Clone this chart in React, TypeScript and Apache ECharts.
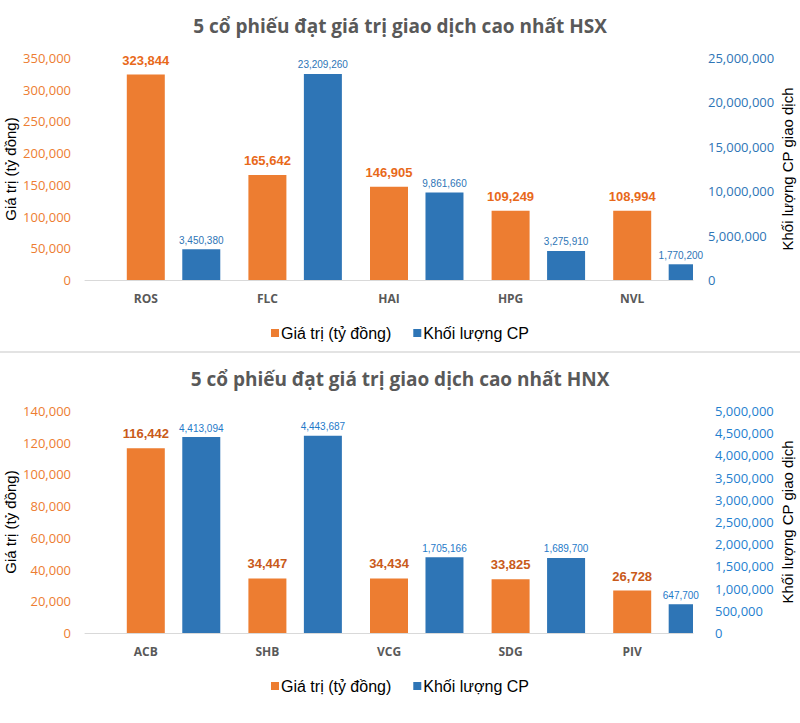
import React, { useEffect, useRef } from "react";
import * as echarts from "echarts";

const hsxCategories = ["ROS", "FLC", "HAI", "HPG", "NVL"];
const hsxValue = [323844, 165642, 146905, 109249, 108994];
const hsxVolume = [3450380, 23209260, 9861660, 3275910, 1770200];

const hnxCategories = ["ACB", "SHB", "VCG", "SDG", "PIV"];
const hnxValue = [116442, 34447, 34434, 33825, 26728];
const hnxVolume = [4413094, 4443687, 1705166, 1689700, 647700];

const hsxLeftTicks = { max: 350000, interval: 50000 };
const hsxRightTicks = { max: 25000000, interval: 5000000 };
const hnxLeftTicks = { max: 140000, interval: 20000 };
const hnxRightTicks = { max: 5000000, interval: 500000 };

const titles = [
  "5 cổ phiếu đạt giá trị giao dịch cao nhất HSX",
  "5 cổ phiếu đạt giá trị giao dịch cao nhất HNX",
];
const seriesNames = ["Giá trị (tỷ đồng)", "Khối lượng CP"];
const leftAxisName = "Giá trị (tỷ đồng)";
const rightAxisName = "Khối lượng CP giao dịch";

const ORANGE = "#ED7D31";
const BLUE = "#2E75B6";
const NARROW = "'Liberation Sans Narrow', 'Arial Narrow', 'Liberation Sans', Arial, sans-serif";
const fmt = (v: number) => Number(v).toLocaleString("en-US");

function buildPanel(
  idx: number,
  top: number,
  cats: string[],
  vals: number[],
  vols: number[],
  lt: { max: number; interval: number },
  rt: { max: number; interval: number },
  valLabelColor: string,
  volLabelColor: string,
  rightAxisColor: string,
  rightLabelMargin: number
) {
  const gi = idx * 2;
  const yi = idx * 3;
  const xi = idx * 2;
  const gridBase = { left: 85, right: 107, top, height: 222, outerBoundsMode: "none", containLabel: false };
  const grids = [{ ...gridBase }, { ...gridBase }];
  const xAxes = [
    {
      type: "category",
      gridIndex: gi,
      data: cats,
      axisLine: { show: true, onZero: false, lineStyle: { color: "#D9D9D9", width: 1 } },
      axisTick: { show: false },
      axisLabel: {
        color: "#595959",
        fontFamily: "'Open Sans', sans-serif",
        fontWeight: "bold",
        fontSize: 12,
        margin: 12,
      },
    },
    {
      type: "category",
      gridIndex: gi + 1,
      data: cats,
      show: false,
    },
  ];
  const yAxes = [
    {
      type: "value",
      gridIndex: gi,
      min: 0,
      max: lt.max,
      interval: lt.interval,
      position: "left",
      splitLine: { show: false },
      axisLine: { show: false },
      axisTick: { show: false },
      axisLabel: {
        color: ORANGE,
        fontFamily: "'Open Sans', sans-serif",
        fontSize: 13,
        margin: 14,
        formatter: (v: number) => fmt(v),
      },
      name: leftAxisName,
      nameLocation: "middle",
      nameRotate: 90,
      nameGap: 67,
      nameMoveOverlap: false,
      nameTextStyle: { color: "#000", fontFamily: "'Liberation Sans', Arial, sans-serif", fontSize: 15 },
    },
    {
      type: "value",
      gridIndex: gi,
      min: 0,
      max: rt.max,
      interval: rt.interval,
      position: "right",
      splitLine: { show: false },
      axisLine: { show: false },
      axisTick: { show: false },
      axisLabel: {
        color: rightAxisColor,
        fontFamily: "'Open Sans', sans-serif",
        fontSize: 13,
        margin: rightLabelMargin,
        formatter: (v: number) => fmt(v),
      },
      name: rightAxisName,
      nameLocation: "middle",
      nameRotate: 90,
      nameGap: 87,
      nameMoveOverlap: false,
      nameTextStyle: { color: "#000", fontFamily: "'Liberation Sans', Arial, sans-serif", fontSize: 15 },
    },
    { type: "value", gridIndex: gi + 1, show: false },
  ];
  const series = [
    {
      type: "bar",
      name: "pad" + idx,
      xAxisIndex: xi,
      yAxisIndex: yi,
      data: [] as number[],
      barWidth: 38,
      barGap: "46%",
      silent: true,
    },
    {
      type: "bar",
      name: seriesNames[0],
      xAxisIndex: xi,
      yAxisIndex: yi,
      data: vals,
      barWidth: 38,
      barGap: "46%",
      itemStyle: { color: ORANGE },
      label: {
        show: true,
        position: "top",
        distance: 8,
        color: valLabelColor,
        fontFamily: NARROW,
        fontWeight: "bold",
        fontSize: 13,
        formatter: (p: any) => fmt(p.value),
      },
    },
    {
      type: "bar",
      name: seriesNames[1],
      xAxisIndex: xi,
      yAxisIndex: yi + 1,
      data: vols,
      barWidth: 38,
      barGap: "46%",
      itemStyle: { color: BLUE },
      label: {
        show: true,
        position: "top",
        distance: 4,
        color: volLabelColor,
        fontFamily: NARROW,
        fontSize: 10,
        formatter: (p: any) => fmt(p.value),
      },
    },
  ];
  const title = {
    text: titles[idx],
    left: "center",
    top: top - 47,
    textStyle: {
      color: "#595959",
      fontFamily: "'Open Sans', sans-serif",
      fontWeight: "bold",
      fontSize: 19,
    },
  };
  const legend = {
    data: seriesNames,
    left: "center",
    top: top + 262,
    icon: "rect",
    itemWidth: 8,
    itemHeight: 8,
    itemGap: 22,
    textStyle: { color: "#000", fontFamily: NARROW, fontSize: 16, padding: [0, 0, 0, -3] },
  };
  return { grids, xAxes, yAxes, series, title, legend };
}

export default function App() {
  const ref = useRef<HTMLDivElement>(null);
  useEffect(() => {
    if (!ref.current) return;
    const chart = echarts.init(ref.current, null, { renderer: "svg" });
    const a = buildPanel(0, 58, hsxCategories, hsxValue, hsxVolume, hsxLeftTicks, hsxRightTicks, "#E8691A", BLUE, BLUE, 15);
    const b = buildPanel(1, 411, hnxCategories, hnxValue, hnxVolume, hnxLeftTicks, hnxRightTicks, "#C95A1A", "#1F7AC9", "#1F7FCF", 22);
    chart.setOption({
      animation: false,
      backgroundColor: "#FFFFFF",
      title: [a.title, b.title],
      legend: [a.legend, b.legend],
      grid: [...a.grids, ...b.grids],
      xAxis: [...a.xAxes, ...b.xAxes],
      yAxis: [...a.yAxes, ...b.yAxes],
      series: [...a.series, ...b.series],
      graphic: [
        {
          type: "line",
          shape: { x1: 0, y1: 352, x2: 800, y2: 352 },
          style: { stroke: "#E3E3E3", lineWidth: 2 },
          silent: true,
        },
      ],
    });
    return () => chart.dispose();
  }, []);
  return (
    <div
      ref={ref}
      style={{ position: "absolute", left: 0, top: 0, width: 800, height: 723 }}
    />
  );
}
